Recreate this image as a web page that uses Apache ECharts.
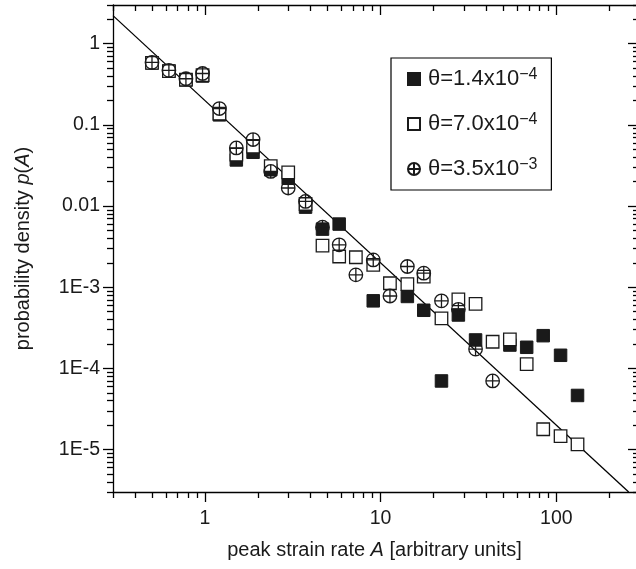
<!DOCTYPE html>
<html><head><meta charset="utf-8">
<script src="https://cdn.jsdelivr.net/npm/echarts@6/dist/echarts.min.js"></script>
<style>html,body{margin:0;padding:0;background:#fff}#c{width:636px;height:569px}</style>
</head><body><div id="c"></div>
<script>
// ---- data ----
const filledX = [0.5,0.624,0.78,0.97,1.21,1.51,1.88,2.37,2.98,3.74,4.67,5.81,9.08,14.2,17.6,22.2,27.7,34.7,54.4,67.8,84.2,105.7,132];
const filledY = [0.58,0.46,0.36,0.40,0.133,0.037,0.046,0.028,0.022,0.0097,0.0052,0.0060,0.00068,0.00077,0.00052,0.00007,0.000455,0.000224,0.000194,0.000182,0.000253,0.000145,0.0000464];
const openX = [0.5,0.624,0.78,0.97,1.21,1.51,1.88,2.37,2.98,3.74,4.67,5.81,7.23,9.08,11.3,14.2,17.6,22.2,27.7,34.7,43.4,54.4,67.8,84.2,105.7,132];
const openY = [0.58,0.46,0.36,0.41,0.138,0.043,0.054,0.031,0.026,0.0106,0.00326,0.00239,0.00234,0.00188,0.00112,0.00109,0.00135,0.000414,0.00071,0.000622,0.000213,0.000228,0.000113,0.0000178,0.0000146,0.0000116];
const circX = [0.5,0.624,0.78,0.97,1.21,1.51,1.88,2.37,2.98,3.74,4.67,5.81,7.23,9.08,11.3,14.2,17.6,22.2,27.7,34.7,43.4];
const circY = [0.59,0.47,0.37,0.43,0.159,0.052,0.066,0.0267,0.0167,0.0114,0.0055,0.00333,0.00142,0.00217,0.00078,0.0018,0.00149,0.00068,0.000534,0.000173,0.00007];
const fitX = [0.3, 258];
const fitY = [2.22, 0.000003];
const seriesNames = ['θ=1.4x10', 'θ=7.0x10', 'θ=3.5x10'];
const seriesExp = ['−4', '−4', '−3'];
const xMajor = [1, 10, 100];
const xMinor = [0.3,0.4,0.5,0.6,0.7,0.8,0.9,2,3,4,5,6,7,8,9,20,30,40,50,60,70,80,90,200];
const yMajor = [0.00001, 0.0001, 0.001, 0.01, 0.1, 1];
const yMajorLabels = ['1E-5', '1E-4', '1E-3', '0.01', '0.1', '1'];
const yMinor = [0.000003,0.000004,0.000005,0.000006,0.000007,0.000008,0.000009,
  0.00002,0.00003,0.00004,0.00005,0.00006,0.00007,0.00008,0.00009,
  0.0002,0.0003,0.0004,0.0005,0.0006,0.0007,0.0008,0.0009,
  0.002,0.003,0.004,0.005,0.006,0.007,0.008,0.009,
  0.02,0.03,0.04,0.05,0.06,0.07,0.08,0.09,
  0.2,0.3,0.4,0.5,0.6,0.7,0.8,0.9, 2, 3];
const X_MIN = 0.3, X_MAX = 284, Y_MIN = 0.000003, Y_MAX = 3;

const pts = (xs, ys) => xs.map((x, i) => [x, ys[i]]);
const FONT = 'Liberation Sans, Arial, Helvetica, sans-serif';
const TXT = '#1a1a1a';
const LINE = {color: '#000', width: 1.3};
const CIRCPLUS = 'path://M50,0A50,50 0 1,1 50,100A50,50 0 1,1 50,0Z M0,50L100,50 M50,0L50,100';

function xAx(pos, ticks, len, inside, showLine, showLabel) {
  return {
    type: 'log', logBase: 10, position: pos, min: X_MIN, max: X_MAX,
    axisLine: {show: showLine, lineStyle: LINE},
    axisTick: {show: true, customValues: ticks, length: len, inside: inside, lineStyle: LINE},
    axisLabel: showLabel ? {show: true, customValues: ticks, margin: 17, fontSize: 19.5, color: TXT, fontFamily: FONT,
      formatter: v => String(Math.round(v))} : {show: false},
    splitLine: {show: false}, minorTick: {show: false}
  };
}
function yAx(pos, ticks, len, inside, showLine, showLabel) {
  return {
    type: 'log', logBase: 10, position: pos, min: Y_MIN, max: Y_MAX,
    axisLine: {show: showLine, lineStyle: LINE},
    axisTick: {show: true, customValues: ticks, length: len, inside: inside, lineStyle: LINE},
    axisLabel: showLabel ? {show: true, customValues: ticks, margin: 13, fontSize: 19.5, color: TXT, fontFamily: FONT,
      formatter: v => { let best = 0, d = 1e9; yMajor.forEach((t, i) => { const e = Math.abs(Math.log10(v) - Math.log10(t)); if (e < d) { d = e; best = i; } }); return yMajorLabels[best]; }} : {show: false},
    splitLine: {show: false}, minorTick: {show: false}
  };
}

const xAxes = [xAx('bottom', xMajor, 10, false, true, true), xAx('bottom', xMinor, 6, false, false, false),
               xAx('top', xMajor, 10, true, true, false), xAx('top', xMinor, 6, true, false, false)];
xAxes[0].name = 'peak strain rate {i|A} [arbitrary units]';
xAxes[0].nameLocation = 'middle';
xAxes[0].nameGap = 48;
xAxes[0].nameTextStyle = {fontSize: 20, color: TXT, fontFamily: FONT, rich: {i: {fontSize: 20, fontStyle: 'italic', color: TXT, fontFamily: FONT}}};
const yAxes = [yAx('left', yMajor, 10, false, true, true), yAx('left', yMinor, 6, false, false, false),
               yAx('right', yMajor, 8, true, false, false), yAx('right', yMinor, 3, true, false, false)];
yAxes[0].name = 'probability density {i|p}({i|A})';
yAxes[0].nameLocation = 'middle';
yAxes[0].nameGap = 80;
yAxes[0].nameTextStyle = {fontSize: 20, color: TXT, fontFamily: FONT, rich: {i: {fontSize: 20, fontStyle: 'italic', color: TXT, fontFamily: FONT}}};

const chart = echarts.init(document.getElementById('c'), null, {renderer: 'canvas'});
chart.setOption({
  animation: false,
  backgroundColor: '#fff',
  grid: {left: 113, right: 0, top: 5, bottom: 77, containLabel: false},
  xAxis: xAxes,
  yAxis: yAxes,
  legend: {
    orient: 'vertical', left: 391, top: 58,
    data: seriesNames,
    itemWidth: 12, itemHeight: 12, itemGap: 21,
    padding: [9, 14, 9, 16],
    borderColor: '#000', borderWidth: 1.2, borderRadius: 0,
    backgroundColor: '#fff',
    formatter: name => name + '{sup|' + seriesExp[seriesNames.indexOf(name)] + '}',
    textStyle: {fontSize: 22, color: TXT, fontFamily: FONT, lineHeight: 24, padding: [0, 0, 0, 3],
      rich: {sup: {fontSize: 16, color: TXT, fontFamily: FONT, verticalAlign: 'top', lineHeight: 14}}}
  },
  series: [
    {type: 'line', data: pts(fitX, fitY), symbol: 'none', lineStyle: {color: '#000', width: 1.3}, silent: true, z: 1},
    {name: seriesNames[0], type: 'scatter', data: pts(filledX, filledY), symbol: 'rect', symbolSize: 12.5,
      itemStyle: {color: '#1a1a1a', borderColor: '#1a1a1a', borderWidth: 1, opacity: 1}, z: 2},
    {name: seriesNames[1], type: 'scatter', data: pts(openX, openY), symbol: 'rect', symbolSize: 12.5,
      itemStyle: {color: '#fff', borderColor: '#1a1a1a', borderWidth: 1.3, opacity: 1}, z: 3},
    {name: seriesNames[2], type: 'scatter', data: pts(circX, circY), symbol: CIRCPLUS, symbolSize: 13.5,
      itemStyle: {color: 'rgba(0,0,0,0)', borderColor: '#1a1a1a', borderWidth: 1.3, opacity: 1}, z: 4}
  ]
});
</script></body></html>
